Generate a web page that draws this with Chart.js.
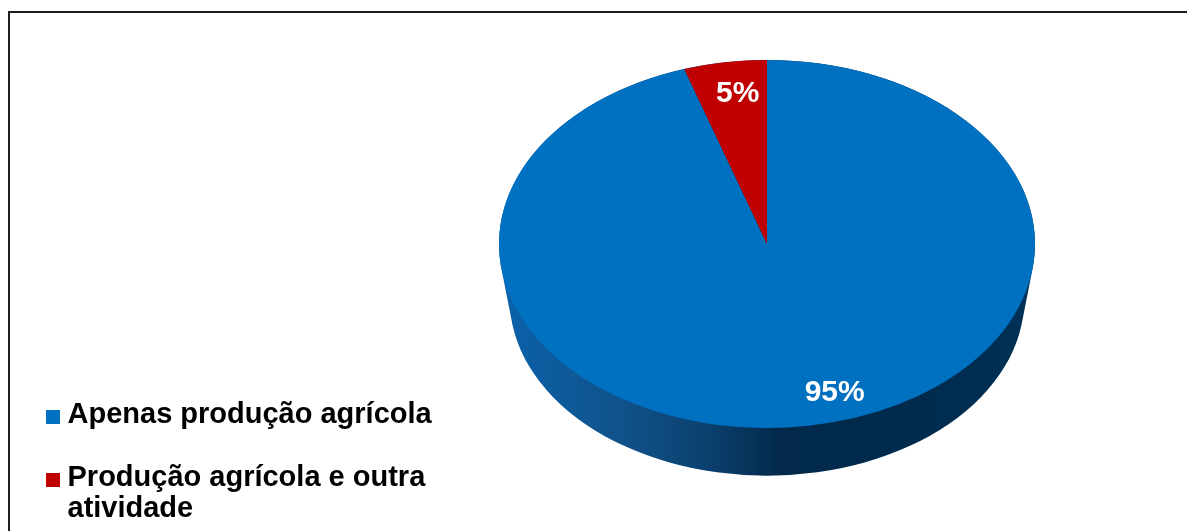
<!DOCTYPE html>
<html>
<head>
<meta charset="utf-8">
<script src="https://cdn.jsdelivr.net/npm/chart.js@4.4.1/dist/chart.umd.min.js"></script>
<style>
  html, body { margin: 0; padding: 0; background: #fff; }
  #wrap { position: relative; width: 1187px; height: 531px; overflow: hidden;
          font-family: "Liberation Sans", Arial, sans-serif; }
  #frame { position: absolute; left: 8px; top: 11px; width: 1300px; height: 700px;
           border-left: 2px solid #1e1e1e; border-top: 2px solid #1e1e1e; }
  #chart { position: absolute; left: 0; top: 0; }
  #legend { position: absolute; left: 46px; top: 398px; margin: 0; padding: 0; list-style: none; }
  #legend li { display: flex; align-items: flex-start; font-weight: bold; font-size: 29px;
               line-height: 31.5px; color: #000; margin-bottom: 31.2px; }
  #legend .sw { flex: none; width: 14px; height: 14px; margin-top: 12px; margin-right: 7.5px; }
  #legend .tx { width: 380px; }
</style>
</head>
<body>
<div id="wrap">
  <div id="frame"></div>
  <canvas id="chart" width="1187" height="531"></canvas>
  <ul id="legend"></ul>
</div>
<script>
// Share of farms by activity
const categories = ['Apenas produção agrícola', 'Produção agrícola e outra atividade'];
const shares = [95, 5];
const valueLabels = ['95%', '5%'];
const colors = ['#0070C0', '#C00000'];

// Legend as real text
const legendEl = document.getElementById('legend');
categories.forEach((name, i) => {
  const li = document.createElement('li');
  const sw = document.createElement('span');
  sw.className = 'sw';
  sw.style.background = colors[i];
  const tx = document.createElement('span');
  tx.className = 'tx';
  tx.textContent = name;
  li.appendChild(sw);
  li.appendChild(tx);
  legendEl.appendChild(li);
});

// Tilted pie: stretch the circular pie into an ellipse and add a rim seen in perspective
const tiltedPie = {
  id: 'tiltedPie',
  beforeDatasetsDraw(chart, args, opts) {
    const arc = chart.getDatasetMeta(0).data[0];
    if (!arc) return;
    const ctx = chart.ctx;
    const cx = arc.x, cy = arc.y, ry = arc.outerRadius, rx = ry * opts.stretch;
    const d = opts.depth, k = opts.shrink;
    const g = ctx.createLinearGradient(cx - rx, 0, cx + rx, 0);
    g.addColorStop(0.00, '#0a62aa');
    g.addColorStop(0.22, '#10538c');
    g.addColorStop(0.40, '#0a3f6c');
    g.addColorStop(0.52, '#02294b');
    g.addColorStop(0.75, '#002a4c');
    g.addColorStop(1.00, '#003156');
    // rim: sweep the outline from the top face down to the (slightly smaller) base
    ctx.save();
    ctx.beginPath();
    const steps = 80;
    for (let s = 0; s <= steps; s++) {
      const t = s / steps;
      const f = 1 - t * (1 - k);
      ctx.moveTo(cx + rx * f, cy + t * d);
      ctx.ellipse(cx, cy + t * d, rx * f, ry * f, 0, 0, Math.PI * 2);
    }
    ctx.fillStyle = g;
    ctx.fill('nonzero');
    ctx.restore();
    // stretch horizontally for the top face
    ctx.save();
    ctx.translate(cx, cy);
    ctx.scale(opts.stretch, 1);
    ctx.translate(-cx, -cy);
  },
  afterDatasetsDraw(chart, args, opts) {
    const meta = chart.getDatasetMeta(0);
    const ctx = chart.ctx;
    ctx.restore();
    ctx.save();
    ctx.fillStyle = '#fff';
    ctx.font = 'bold 30px "Liberation Sans", Arial, sans-serif';
    ctx.textAlign = 'center';
    ctx.textBaseline = 'alphabetic';
    meta.data.forEach((el, i) => {
      const ry = el.outerRadius, rx = ry * opts.stretch;
      const mid = (el.startAngle + el.endAngle) / 2 + opts.angleNudge[i] * Math.PI / 180;
      const x = el.x + Math.cos(mid) * rx * opts.labelRadius;
      const y = el.y + Math.sin(mid) * ry * opts.labelRadius;
      ctx.fillText(valueLabels[i], x, y + 10.5);
    });
    ctx.restore();
  }
};

new Chart(document.getElementById('chart'), {
  type: 'pie',
  data: {
    labels: categories,
    datasets: [{
      data: shares,
      backgroundColor: colors,
      borderWidth: 0,
      hoverOffset: 0
    }]
  },
  options: {
    responsive: false,
    animation: false,
    events: [],
    radius: 184,
    layout: { padding: { left: 567, right: 220, top: 44, bottom: 87 } },
    plugins: {
      legend: { display: false },
      tooltip: { enabled: false },
      tiltedPie: { stretch: 268 / 184, depth: 55, shrink: 0.96, labelRadius: 0.835, angleNudge: [-8.6, 1.5] }
    }
  },
  plugins: [tiltedPie]
});
</script>
</body>
</html>
